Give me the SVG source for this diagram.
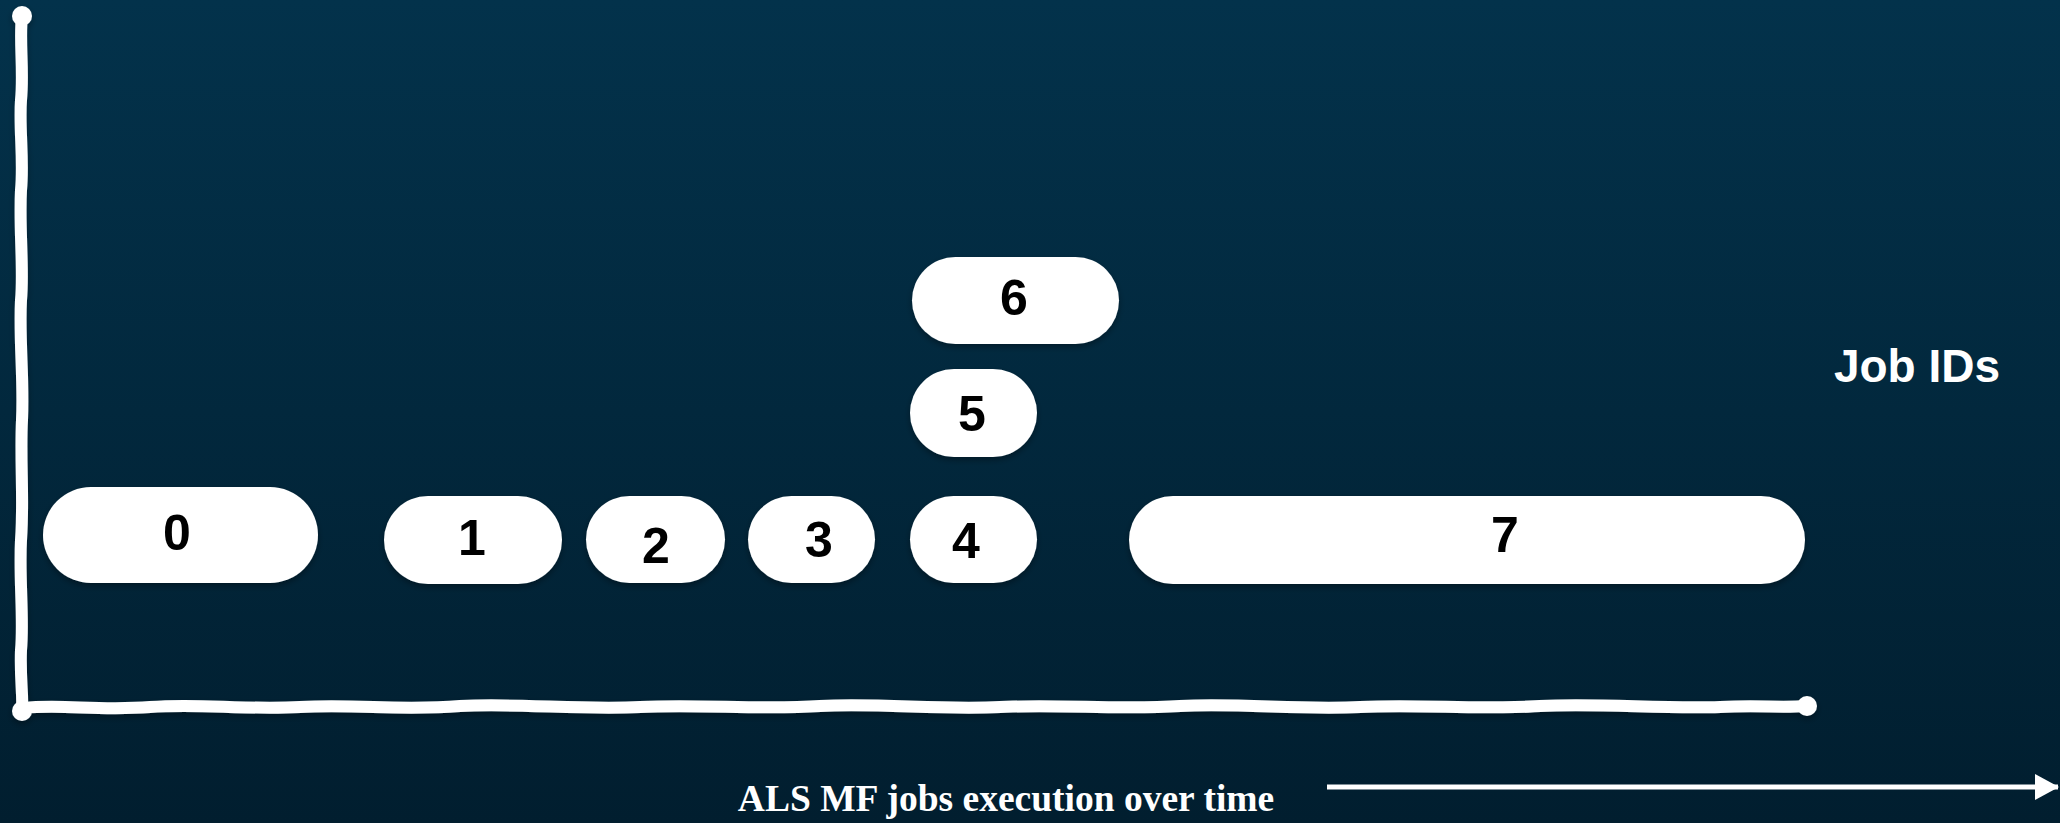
<svg xmlns="http://www.w3.org/2000/svg" width="2060" height="823" viewBox="0 0 2060 823">
<defs>
<linearGradient id="bg" x1="0" y1="0" x2="0" y2="1">
<stop offset="0" stop-color="#03324B"/>
<stop offset="1" stop-color="#011E2F"/>
</linearGradient>
<filter id="sh" x="-10%" y="-20%" width="120%" height="150%">
<feDropShadow dx="0" dy="3" stdDeviation="3" flood-color="#000" flood-opacity="0.35"/>
</filter>
<marker id="ah" markerWidth="24" markerHeight="26" refX="23" refY="13" orient="auto" markerUnits="userSpaceOnUse">
<path d="M0,0 L24,13 L0,26 Z" fill="#fff"/>
</marker>
<style>
.job{fill:#fff;filter:url(#sh)}
.num{font-family:"Liberation Sans",Arial,sans-serif;font-weight:bold;font-size:50px;fill:#000;text-anchor:middle}
.axis{fill:none;stroke:#fff;stroke-width:12;stroke-linecap:round;stroke-linejoin:round}
</style>
</defs>
<rect width="2060" height="823" fill="url(#bg)"/>
<g id="axes" filter="url(#sh)">
<path class="axis" d="M22,16 C19,40 24,70 21,100 C19,130 24,160 21,190 C19,230 24,270 21,300 C19,340 24,380 22,420 C20,460 24,500 21,540 C19,580 24,620 21,650 C20,680 23,695 22,706"/>
<path class="axis" d="M24,708 C60,704 100,711 150,707 C200,703 240,710 300,707 C360,704 400,711 460,706 C520,703 580,710 640,707 C700,704 760,710 820,706 C880,703 940,710 1000,707 C1060,704 1120,710 1180,706 C1240,703 1300,710 1360,707 C1420,704 1480,710 1540,706 C1600,703 1660,709 1720,707 C1760,705 1780,708 1806,706"/>
<circle cx="22" cy="16" r="10" fill="#fff"/>
<circle cx="22" cy="711" r="10" fill="#fff"/>
<circle cx="1807" cy="706" r="10" fill="#fff"/>
</g>
<g id="job0"><rect class="job" x="43" y="487" width="275" height="96" rx="48"/><text class="num" x="177" y="550">0</text></g>
<g id="job1"><rect class="job" x="384" y="496" width="178" height="88" rx="44"/><text class="num" x="472" y="555">1</text></g>
<g id="job2"><rect class="job" x="586" y="496" width="139" height="87" rx="43.5"/><text class="num" x="656" y="563">2</text></g>
<g id="job3"><rect class="job" x="748" y="496" width="127" height="87" rx="43.5"/><text class="num" x="819" y="557">3</text></g>
<g id="job4"><rect class="job" x="910" y="496" width="127" height="87" rx="43.5"/><text class="num" x="966" y="558">4</text></g>
<g id="job5"><rect class="job" x="910" y="369" width="127" height="88" rx="44"/><text class="num" x="972" y="431">5</text></g>
<g id="job6"><rect class="job" x="912" y="257" width="207" height="87" rx="43.5"/><text class="num" x="1014" y="315">6</text></g>
<g id="job7"><rect class="job" x="1129" y="496" width="676" height="88" rx="44"/><text class="num" x="1505" y="552">7</text></g>
<g id="label-jobids"><text x="1917" y="382" font-family="'Liberation Sans',Arial,sans-serif" font-weight="bold" font-size="46" fill="#fff" text-anchor="middle">Job IDs</text></g>
<g id="connectors">
<line x1="1327" y1="787" x2="2058" y2="787" stroke="#fff" stroke-width="5" marker-end="url(#ah)"/>
</g>
<g id="label-time"><text x="1006" y="811" font-family="'Liberation Serif','Times New Roman',serif" font-weight="bold" font-size="37.5" fill="#fff" text-anchor="middle">ALS MF jobs execution over time</text></g>
</svg>
